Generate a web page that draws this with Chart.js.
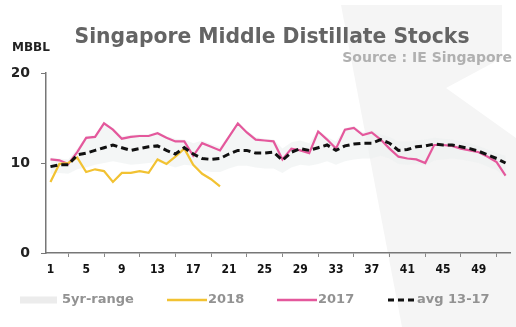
<!DOCTYPE html>
<html>
<head>
<meta charset="utf-8">
<script src="https://cdn.jsdelivr.net/npm/chart.js@4/dist/chart.umd.min.js"></script>
<style>
  html, body { margin: 0; padding: 0; background: #fff; }
  #wrap { width: 516px; height: 327px; position: relative; }
</style>
</head>
<body>
<div id="wrap"><canvas id="stocks"></canvas></div>
<script>
// weekly Singapore middle distillate stocks, million barrels
const weeks = Array.from({ length: 52 }, (_, i) => String(i + 1));

const stocks2018 = [7.9, 9.9, 10.0, 10.6, 9.0, 9.3, 9.1, 7.9, 8.9, 8.9,
  9.1, 8.9, 10.4, 9.9, 10.7, 11.6, 9.8, 8.8, 8.2, 7.4];

const stocks2017 = [10.4, 10.3, 9.9, 11.2, 12.8, 12.9, 14.4, 13.7, 12.7, 12.9,
  13.0, 13.0, 13.3, 12.8, 12.4, 12.4, 10.8, 12.2, 11.8, 11.4,
  12.9, 14.4, 13.4, 12.6, 12.5, 12.4, 10.4, 11.6, 11.4, 11.1,
  13.5, 12.6, 11.6, 13.7, 13.9, 13.1, 13.4, 12.6, 11.6, 10.7,
  10.5, 10.4, 10.0, 12.0, 12.0, 11.9, 11.6, 11.4, 11.2, 10.7,
  10.1, 8.6];

const avg1317 = [9.6, 9.8, 9.8, 10.9, 11.1, 11.4, 11.7, 12.0, 11.7, 11.4,
  11.6, 11.8, 11.9, 11.4, 11.0, 11.7, 11.0, 10.5, 10.4, 10.5,
  11.0, 11.4, 11.4, 11.1, 11.1, 11.2, 10.3, 11.2, 11.6, 11.4,
  11.7, 12.0, 11.4, 11.9, 12.1, 12.2, 12.2, 12.6, 12.2, 11.4,
  11.5, 11.8, 11.9, 12.1, 12.0, 12.0, 11.8, 11.6, 11.3, 10.9,
  10.5, 10.0];

const rangeMax = [10.6, 10.5, 10.4, 11.6, 13.0, 13.1, 14.6, 13.9, 13.0, 13.1,
  13.2, 13.2, 13.5, 13.0, 12.7, 12.6, 12.2, 12.5, 12.1, 11.8,
  13.1, 14.6, 13.6, 12.9, 12.7, 12.6, 11.6, 12.3, 12.5, 12.2,
  13.7, 12.9, 12.4, 13.9, 14.1, 13.4, 13.6, 13.2, 12.9, 12.4,
  12.4, 12.5, 12.6, 12.8, 12.7, 12.6, 12.4, 12.2, 11.9, 11.5,
  11.1, 10.8];

const rangeMin = [8.8, 8.9, 8.8, 9.3, 9.5, 9.8, 10.0, 10.2, 10.0, 9.8,
  9.9, 10.0, 10.1, 9.8, 9.5, 9.8, 9.7, 9.2, 9.0, 9.0,
  9.4, 9.7, 9.7, 9.5, 9.4, 9.4, 8.9, 9.5, 9.8, 9.7,
  9.9, 10.2, 9.8, 10.2, 10.4, 10.5, 10.5, 10.8, 10.5, 9.9,
  9.8, 9.9, 9.7, 10.3, 10.4, 10.5, 10.4, 10.2, 10.0, 9.6,
  9.2, 8.4];

const yTicks = [0, 10, 20];

const PINK = '#e4589c';
const GOLD = '#f2c232';
const RANGE = 'rgba(236,240,240,0.6)';
const FONT = "'DejaVu Sans', Verdana, sans-serif";

// draw text squeezed horizontally into a given width
function fitText(ctx, text, x, y, width, align) {
  const w = ctx.measureText(text).width;
  const sx = Math.min(1, width / w);
  ctx.save();
  ctx.translate(x, y);
  ctx.scale(sx, 1);
  ctx.textAlign = align;
  ctx.fillText(text, 0, 0);
  ctx.restore();
}

// faint logo swoosh behind the plot
const watermark = {
  id: 'watermark',
  beforeDraw(chart) {
    const ctx = chart.ctx;
    ctx.save();
    ctx.fillStyle = '#f5f5f5';
    ctx.beginPath();
    ctx.moveTo(341, 5);
    ctx.lineTo(502, 5);
    ctx.lineTo(502, 58);
    ctx.lineTo(446, 88);
    ctx.lineTo(516, 138);
    ctx.lineTo(516, 327);
    ctx.lineTo(402, 327);
    ctx.quadraticCurveTo(372, 170, 341, 5);
    ctx.closePath();
    ctx.fill();
    ctx.restore();
  }
};

// heading, unit label and the legend row
const decor = {
  id: 'decor',
  afterDraw(chart) {
    const ctx = chart.ctx;
    ctx.save();
    ctx.textBaseline = 'alphabetic';

    ctx.fillStyle = '#646464';
    ctx.font = 'bold 22px ' + FONT;
    fitText(ctx, 'Singapore Middle Distillate Stocks', 272, 43, 395, 'center');

    ctx.fillStyle = '#b0b0b0';
    ctx.font = 'bold 14px ' + FONT;
    fitText(ctx, 'Source : IE Singapore', 512, 62, 175, 'right');

    ctx.fillStyle = '#222';
    ctx.font = 'bold 12px ' + FONT;
    fitText(ctx, 'MBBL', 12, 51, 42, 'left');

    const ly = 300;
    const items = [
      { x0: 20, x1: 57, tx: 62, text: '5yr-range', color: '#ececec', width: 7, dash: [] },
      { x0: 167, x1: 207, tx: 208, text: '2018', color: GOLD, width: 2.5, dash: [] },
      { x0: 277, x1: 317, tx: 318, text: '2017', color: PINK, width: 2.5, dash: [] },
      { x0: 388, x1: 414, tx: 417, text: 'avg 13-17', color: '#111', width: 3, dash: [6, 4] }
    ];
    ctx.font = 'bold 13px ' + FONT;
    ctx.textBaseline = 'middle';
    items.forEach(it => {
      ctx.beginPath();
      ctx.setLineDash(it.dash);
      ctx.strokeStyle = it.color;
      ctx.lineWidth = it.width;
      ctx.moveTo(it.x0, ly);
      ctx.lineTo(it.x1, ly);
      ctx.stroke();
      ctx.setLineDash([]);
      ctx.fillStyle = '#929292';
      ctx.textAlign = 'left';
      ctx.fillText(it.text, it.tx, ly);
    });
    ctx.restore();
  }
};

new Chart(document.getElementById('stocks'), {
  type: 'line',
  data: {
    labels: weeks,
    datasets: [
      {
        label: '5yr-max',
        data: rangeMax,
        borderWidth: 0,
        backgroundColor: RANGE,
        fill: '+1',
        pointRadius: 0,
        order: 4
      },
      {
        label: '5yr-range',
        data: rangeMin,
        borderWidth: 0,
        backgroundColor: RANGE,
        fill: false,
        pointRadius: 0,
        order: 4
      },
      {
        label: '2018',
        data: stocks2018,
        borderColor: GOLD,
        borderWidth: 2.2,
        pointRadius: 0,
        fill: false,
        order: 2
      },
      {
        label: '2017',
        data: stocks2017,
        borderColor: PINK,
        borderWidth: 2.2,
        pointRadius: 0,
        fill: false,
        order: 3
      },
      {
        label: 'avg 13-17',
        data: avg1317,
        borderColor: '#111',
        borderWidth: 3,
        borderDash: [7, 4],
        pointRadius: 0,
        fill: false,
        order: 1
      }
    ]
  },
  options: {
    responsive: true,
    maintainAspectRatio: false,
    animation: false,
    layout: { padding: { left: 12, right: 6, top: 73, bottom: 54 } },
    plugins: {
      legend: { display: false },
      tooltip: { enabled: false }
    },
    elements: { line: { tension: 0 } },
    scales: {
      x: {
        offset: true,
        afterFit: s => { s.height = 20; },
        grid: {
          offset: true,
          drawOnChartArea: false,
          tickLength: 4,
          color: '#888'
        },
        border: { color: '#777', width: 1.5 },
        ticks: {
          autoSkip: false,
          maxRotation: 0,
          padding: 6,
          color: '#111',
          font: { family: "'DejaVu Sans Condensed', " + FONT, weight: 'bold', size: 12 },
          callback: (v, i) => (i % 4 === 0 ? weeks[i] : null)
        }
      },
      y: {
        min: 0,
        max: 20,
        afterFit: s => { s.width = 34; },
        afterBuildTicks: s => { s.ticks = yTicks.map(v => ({ value: v })); },
        grid: { drawOnChartArea: false, tickLength: 5, color: '#777' },
        border: { color: '#777', width: 1.5 },
        ticks: {
          padding: 11,
          color: '#222',
          font: { family: FONT, weight: 'bold', size: 14 }
        }
      }
    }
  },
  plugins: [watermark, decor]
});
</script>
</body>
</html>
